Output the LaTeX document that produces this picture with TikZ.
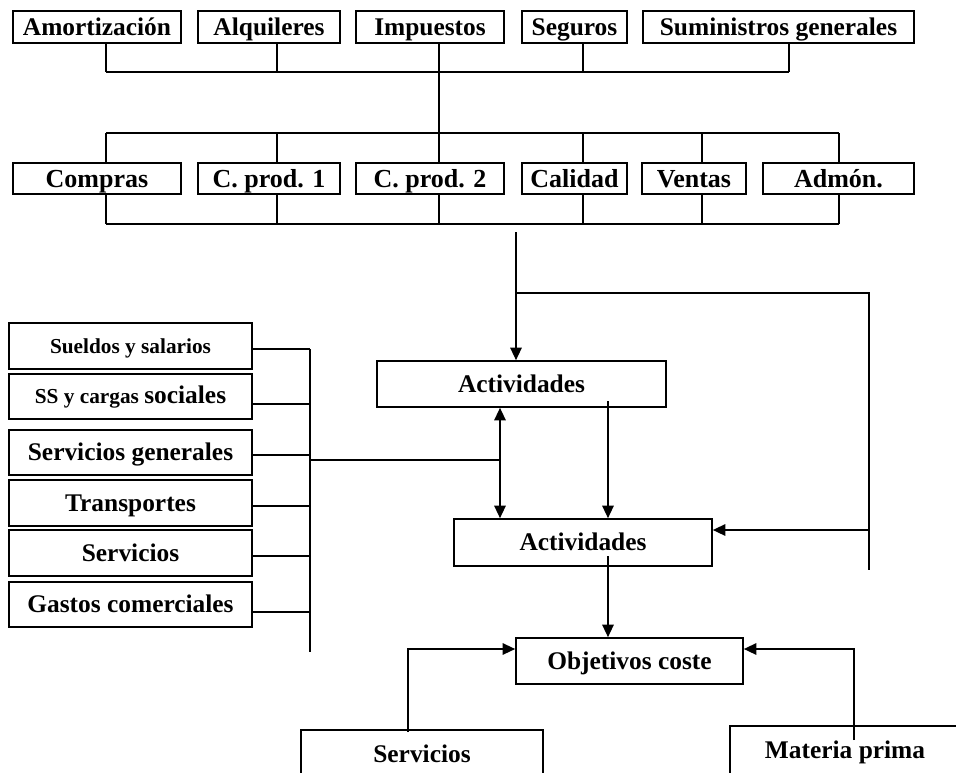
\documentclass[tikz,border=0pt]{standalone}
\usepackage{fontspec}
\setmainfont{Liberation Serif}
\usetikzlibrary{arrows.meta}
\begin{document}
\begin{tikzpicture}[x=1pt,y=-1pt,
  box/.style={draw,line width=1.7pt,inner sep=0pt,anchor=center,
    text height=16.8pt,text depth=0pt,
    font=\bfseries\fontsize{25.4}{28}\selectfont},
  boxtwo/.style={box,text height=17.2pt,font=\bfseries\fontsize{26}{28}\selectfont},
  smallbox/.style={box,text height=14.1pt,font=\bfseries\fontsize{21.3}{24}\selectfont},
  thick line/.style={line width=1.8pt},
  thin line/.style={line width=1.4pt},
  arr/.style={thin line,-{Triangle[length=12.5pt,width=11.5pt]}},
  dblarr/.style={thin line,{Triangle[length=12.5pt,width=11.5pt]}-{Triangle[length=12.5pt,width=11.5pt]}}]
\useasboundingbox (0,0) rectangle (956,772);
\clip (0,0) rectangle (956,772);

% top row
\node[box,minimum width=168pt,minimum height=32pt] (amort) at (97,27) {Amortización};
\node[box,minimum width=142pt,minimum height=32pt] (alq) at (269,27) {Alquileres};
\node[box,minimum width=148pt,minimum height=32pt] (imp) at (430,27) {Impuestos};
\node[box,minimum width=105pt,minimum height=32pt] (seg) at (574.5,27) {Seguros};
\node[box,minimum width=271pt,minimum height=32pt] (sum) at (778.5,27) {Suministros generales};

% second row
\node[boxtwo,minimum width=168pt,minimum height=31pt] (comp) at (97,178.5) {Compras};
\node[boxtwo,minimum width=142pt,minimum height=31pt] (cpa) at (269,178.5) {C. prod. 1};
\node[boxtwo,minimum width=148pt,minimum height=31pt] (cpb) at (430,178.5) {C. prod. 2};
\node[boxtwo,minimum width=105pt,minimum height=31pt] (cal) at (574.5,178.5) {Calidad};
\node[boxtwo,minimum width=104pt,minimum height=31pt] (ven) at (694,178.5) {Ventas};
\node[boxtwo,minimum width=151pt,minimum height=31pt] (adm) at (838.5,178.5) {Admón.};

% bus coordinates (top)
\coordinate (ta) at (106,72);
\coordinate (tb) at (277,72);
\coordinate (tc) at (439,72);
\coordinate (td) at (583,72);
\coordinate (te) at (789,72);
\draw[thick line] (amort.south -| ta) -- (ta);
\draw[thick line] (alq.south -| tb) -- (tb);
\draw[thick line] (imp.south -| tc) -- (tc);
\draw[thick line] (seg.south -| td) -- (td);
\draw[thick line] (sum.south -| te) -- (te);
\draw[thick line] (ta) -- (te);

\coordinate (ma) at (106,133);
\coordinate (mb) at (277,133);
\coordinate (mc) at (439,133);
\coordinate (md) at (583,133);
\coordinate (me) at (702,133);
\coordinate (mf) at (839,133);
\draw[thick line] (tc) -- (mc);
\draw[thick line] (ma) -- (mf);
\draw[thick line] (ma) -- (ma |- comp.north);
\draw[thick line] (mb) -- (mb |- cpa.north);
\draw[thick line] (mc) -- (mc |- cpb.north);
\draw[thick line] (md) -- (md |- cal.north);
\draw[thick line] (me) -- (me |- ven.north);
\draw[thick line] (mf) -- (mf |- adm.north);

\coordinate (ba) at (106,224);
\coordinate (bb) at (277,224);
\coordinate (bc) at (439,224);
\coordinate (bd) at (583,224);
\coordinate (be) at (702,224);
\coordinate (bf) at (839,224);
\draw[thick line] (comp.south -| ba) -- (ba);
\draw[thick line] (cpa.south -| bb) -- (bb);
\draw[thick line] (cpb.south -| bc) -- (bc);
\draw[thick line] (cal.south -| bd) -- (bd);
\draw[thick line] (ven.south -| be) -- (be);
\draw[thick line] (adm.south -| bf) -- (bf);
\draw[thick line] (ba) -- (bf);

% left column
\node[smallbox,minimum width=243pt,minimum height=46pt] (sue) at (130.5,346) {Sueldos y salarios};
\node[smallbox,minimum width=243pt,minimum height=45pt] (ssc) at (130.5,396.5) {SS y cargas {\fontsize{25.4}{28}\selectfont sociales}};
\node[box,minimum width=243pt,minimum height=45pt] (sgen) at (130.5,452.5) {Servicios generales};
\node[box,minimum width=243pt,minimum height=46pt] (tra) at (130.5,503) {Transportes};
\node[box,minimum width=243pt,minimum height=46pt] (ser) at (130.5,553) {Servicios};
\node[box,minimum width=243pt,minimum height=45pt] (gas) at (130.5,604.5) {Gastos comerciales};

\coordinate (la) at (310,349);
\coordinate (lb) at (310,404);
\coordinate (lc) at (310,455);
\coordinate (ld) at (310,506);
\coordinate (le) at (310,556);
\coordinate (lf) at (310,612);
\coordinate (lg) at (310,652);
\coordinate (lh) at (310,460);
\draw[thin line] (sue.east |- la) -- (la);
\draw[thin line] (ssc.east |- lb) -- (lb);
\draw[thin line] (sgen.east |- lc) -- (lc);
\draw[thin line] (tra.east |- ld) -- (ld);
\draw[thin line] (ser.east |- le) -- (le);
\draw[thin line] (gas.east |- lf) -- (lf);
\draw[thin line] (la) -- (lg);

% activities
\node[box,minimum width=289pt,minimum height=46pt] (act) at (521.5,384) {Actividades};
\node[box,minimum width=258pt,minimum height=47pt] (actb) at (583,542.5) {Actividades};
\node[box,minimum width=227pt,minimum height=46pt] (obj) at (629.5,661) {Objetivos coste};
\node[box,minimum width=242pt,minimum height=48pt] (serb) at (422,754) {Servicios};
\node[box,minimum width=230pt,minimum height=48pt] (mat) at (845,750) {Materia prima};

\coordinate (ra) at (516,232);
\coordinate (rb) at (516,293);
\coordinate (rc) at (869,293);
\coordinate (rd) at (869,570);
\coordinate (re) at (869,530);
\draw[arr] (ra) -- (ra |- act.north);
\draw[thin line] (rb) -- (rc) -- (rd);
\draw[arr] (re) -- (re -| actb.east);

\coordinate (da) at (500,460);
\draw[dblarr] (da |- act.south) -- (da |- actb.north);
\draw[thin line] (lh) -- ([xshift=1pt]da);

\coordinate (ea) at (608,401);
\draw[arr] (ea) -- (ea |- actb.north);
\coordinate (eb) at (608,556);
\draw[arr] (eb) -- (eb |- obj.north);

\coordinate (sa) at (408,732);
\coordinate (sb) at (408,649);
\draw[arr] (sa) -- (sb) -- (sb -| obj.west);
\coordinate (mma) at (854,740);
\coordinate (mmb) at (854,649);
\draw[arr] (mma) -- (mmb) -- (mmb -| obj.east);
\end{tikzpicture}
\end{document}
